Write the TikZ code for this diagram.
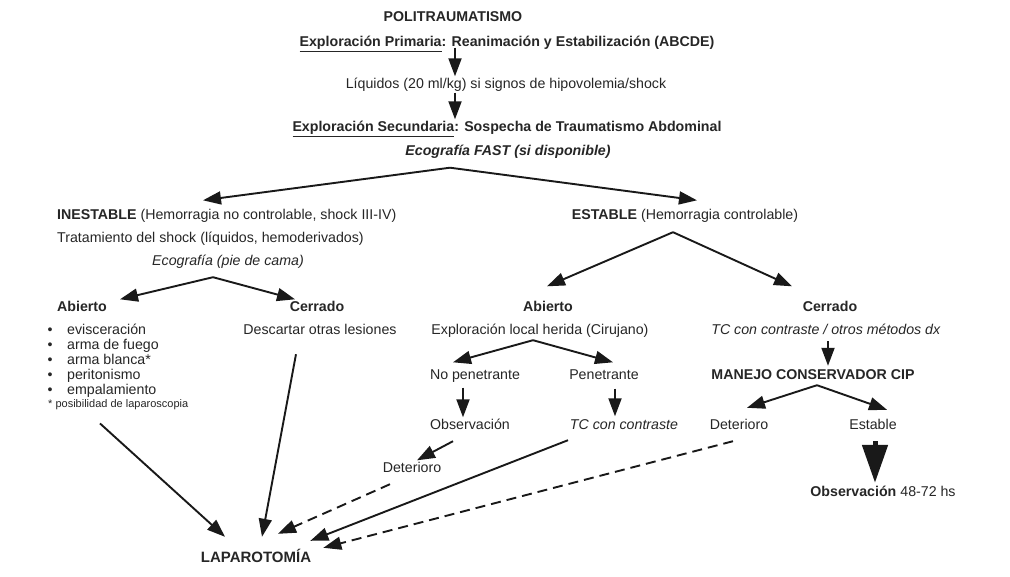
\documentclass[tikz,border=0pt]{standalone}
\usepackage{fontspec}
\setmainfont{Liberation Sans}
\usetikzlibrary{arrows.meta,calc}
\begin{document}
\begin{tikzpicture}[x=1pt,y=-1pt,font=\fontsize{14.2}{16}\selectfont,
  txt/.style={inner sep=2pt,text height=10pt,text depth=3pt,text=black!85},
  arr/.style={-{Triangle[length=18pt,width=13pt]},line width=1.9pt,black!90},
  dasharr/.style={arr,dash pattern=on 10pt off 6pt},
  bigarr/.style={-{Triangle[length=38pt,width=25pt]},line width=5pt,black!90}]
\path[fill=white,use as bounding box] (0,0) rectangle (1010,576);
\node[txt] (polit) at (453,18) {\textbf{POLITRAUMATISMO}};
\node[txt] (prim) at (507,43) {\textbf{\underline{Exploración Primaria}: Reanimación y Estabilización (ABCDE)}};
\node[txt] (liq) at (506,85) {Líquidos (20 ml/kg) si signos de hipovolemia/shock};
\node[txt] (sec) at (507,128) {\textbf{\underline{Exploración Secundaria}: Sospecha de Traumatismo Abdominal}};
\node[txt] (fast) at (508,152) {\textbf{\textit{Ecografía FAST (si disponible)}}};
\node[txt,anchor=west] (inest) at (55,216) {\textbf{INESTABLE} (Hemorragia no controlable, shock III-IV)};
\node[txt,anchor=west] (trat) at (55,239) {Tratamiento del shock (líquidos, hemoderivados)};
\node[txt] (ecopie) at (228,262) {\textit{Ecografía (pie de cama)}};
\node[txt,anchor=west] (iab) at (55,308) {\textbf{Abierto}};
\node[txt] (icer) at (317,308) {\textbf{Cerrado}};
\node[txt] (desc) at (320,331) {Descartar otras lesiones};
\foreach \itm [count=\i] in {evisceración,arma de fuego,arma blanca*,peritonismo,empalamiento}{
  \node[txt] (bul\i) at (50,{316+15*\i}) {•};
  \node[txt,anchor=west] (itm\i) at (65,{316+15*\i}) {\itm};
}
\node[txt,anchor=west,font=\fontsize{11}{13}\selectfont,text height=8pt,text depth=2.5pt] (foot) at (46,405) {* posibilidad de laparoscopia};
\node[txt,font=\fontsize{15}{17}\selectfont] (lap) at (256,559) {\textbf{LAPAROTOMÍA}};
\node[txt] (est) at (685,216) {\textbf{ESTABLE} (Hemorragia controlable)};
\node[txt] (eab) at (548,308) {\textbf{Abierto}};
\node[txt] (expl) at (540,331) {Exploración local herida (Cirujano)};
\node[txt] (nopen) at (475,376) {No penetrante};
\node[txt] (pen) at (604,376) {Penetrante};
\node[txt] (obs1) at (470,426) {Observación};
\node[txt] (tc1) at (624,426) {\textit{TC con contraste}};
\node[txt] (det1) at (412,469) {Deterioro};
\node[txt] (ecer) at (830,308) {\textbf{Cerrado}};
\node[txt] (tc2) at (826,331) {\textit{TC con contraste / otros métodos dx}};
\node[txt] (cip) at (813,376) {\textbf{MANEJO CONSERVADOR CIP}};
\node[txt] (det2) at (739,426) {Deterioro};
\node[txt] (estab) at (873,426) {Estable};
\node[txt] (obs2) at (883,493) {\textbf{Observación} 48-72 hs};
\coordinate (fastsplit) at ($(fast.south)+(-58,7)$);
\coordinate (ecosplit) at ($(ecopie.south)+(-15,6.5)$);
\coordinate (estsplit) at ($(est.south)+(-12,7.5)$);
\coordinate (explsplit) at ($(expl.south)+(-7,0.5)$);
\coordinate (cipsplit) at ($(cip.south)+(4,0.5)$);
\draw[arr] (prim.south -| polit.center) ++(2,-4) -- ($(liq.north -| polit.center)+(2,0)$);
\draw[arr] ($(liq.south -| polit.center)+(2,-1)$) -- ($(sec.north -| polit.center)+(2,0)$);
\draw[arr] (fastsplit) -- ($(inest.north west)+(148,-7)$);
\draw[arr] (fastsplit) -- ($(est.north)+(12,-7)$);
\draw[arr] (ecosplit) -- ($(iab.north west)+(65,0)$);
\draw[arr] (ecosplit) -- ($(icer.north)+(-22,0)$);
\draw[arr] (estsplit) -- ($(eab.north)+(-1,-13)$);
\draw[arr] (estsplit) -- ($(ecer.north)+(-38,-13)$);
\draw[arr] (explsplit) -- ($(nopen.north)+(-22,-5)$);
\draw[arr] (explsplit) -- ($(pen.north)+(9,-5)$);
\draw[arr] ($(nopen.south)+(-12,3)$) -- ($(obs1.north)+(-7,0)$);
\draw[arr] ($(pen.south)+(11,4)$) -- ($(tc1.north)+(-9,-1)$);
\draw[arr] ($(obs1.south)+(-17,6.5)$) -- ($(det1.north)+(5,0)$);
\draw[arr] ($(tc2.south)+(2,1.5)$) -- ($(cip.north)+(15,-1.5)$);
\draw[arr] (cipsplit) -- ($(det2.north)+(8,-9.5)$);
\draw[arr] (cipsplit) -- ($(estab.north)+(14,-7.5)$);
\draw[bigarr] ($(estab.south)+(2,6.5)$) -- ($(obs2.north)+(-8,-1.5)$);
\draw[arr] ($(foot.south west)+(54,11)$) -- ($(lap.north)+(-31,-13.5)$);
\draw[arr] ($(desc.south)+(-24,14.5)$) -- ($(lap.north)+(6,-13.5)$);
\draw[dasharr] ($(det1.south)+(-22,6.5)$) -- ($(lap.north)+(22,-16.5)$);
\draw[arr] ($(tc1.south)+(-56,5.5)$) -- ($(lap.north east)+(-3,-9.5)$);
\draw[dasharr] ($(det2.south)+(-6,6.5)$) -- ($(lap.north east)+(10,-2.5)$);
\end{tikzpicture}
\end{document}
